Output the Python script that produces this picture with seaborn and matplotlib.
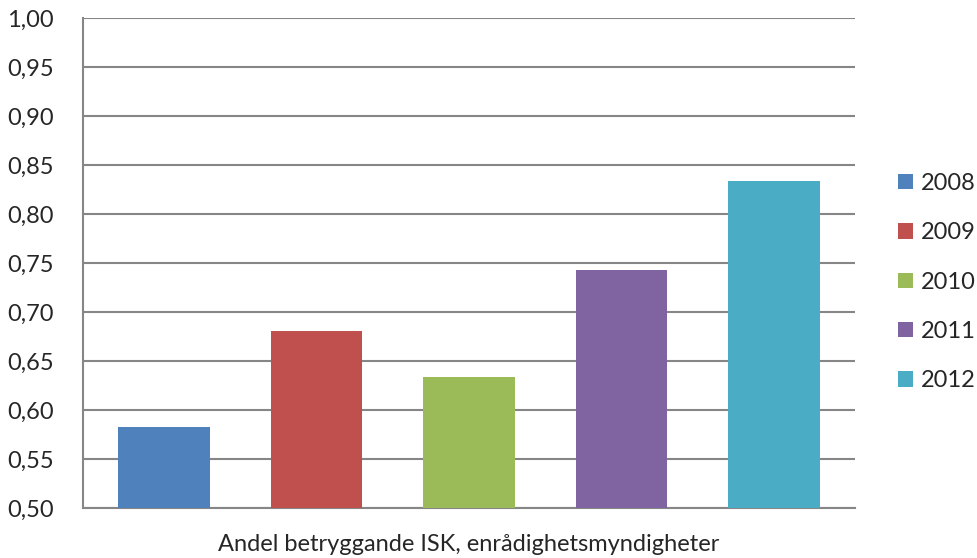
import numpy as np
import pandas as pd
import matplotlib
matplotlib.use('Agg')
import matplotlib.pyplot as plt
import seaborn as sns

# Data
years = ['2008', '2009', '2010', '2011', '2012']
shares = [0.583, 0.681, 0.634, 0.743, 0.834]
colors = ['#4F81BD', '#C0504D', '#9BBB59', '#8064A2', '#4BACC6']
y_ticks = [0.50, 0.55, 0.60, 0.65, 0.70, 0.75, 0.80, 0.85, 0.90, 0.95, 1.00]
x_label = 'Andel betryggande ISK, enrådighetsmyndigheter'

sns.set_style('white')
plt.rcParams['font.family'] = ['Lato', 'DejaVu Sans']

df = pd.DataFrame({'year': years, 'share': shares})

fig = plt.figure(figsize=(9.78, 5.58), dpi=100)
ax = fig.add_axes([83 / 978, 1 - 508 / 558, 772 / 978, 490 / 558])

grid_col = '#868686'
sns.barplot(data=df, x='year', y='share', hue='year', palette=colors,
            width=0.6, dodge=False, legend=True, ax=ax, zorder=3,
            saturation=1, linewidth=0)

ax.set_ylim(0.5, 1.0)
ax.set_xlim(-0.53, 4.53)
ax.set_yticks(y_ticks)
ax.set_yticklabels([f'{v:.2f}'.replace('.', ',') for v in y_ticks], fontsize=17)
ax.set_xticks([-0.53, 4.53])
ax.set_xticklabels(['', ''])
ax.tick_params(axis='both', direction='out', length=8, width=1.5,
               color=grid_col)
ax.tick_params(axis='y', pad=13)
ax.yaxis.grid(True, color=grid_col, linewidth=1.5, zorder=0)
ax.set_axisbelow(True)

for s in ['top', 'right']:
    ax.spines[s].set_visible(False)
for s in ['left', 'bottom']:
    ax.spines[s].set_color(grid_col)
    ax.spines[s].set_linewidth(1.5)

ax.set_ylabel('')
ax.set_xlabel(x_label, fontsize=17)
ax.xaxis.label.set_va('center')
ax.xaxis.set_label_coords(0.5, -0.075)

leg = ax.legend(loc='center left', bbox_to_anchor=(1.056, 0.461), frameon=False,
                fontsize=17, handlelength=0.62, handleheight=0.62,
                handletextpad=0.35, labelspacing=1.2, borderaxespad=0,
                borderpad=0)

plt.savefig('out.png', dpi=100)
